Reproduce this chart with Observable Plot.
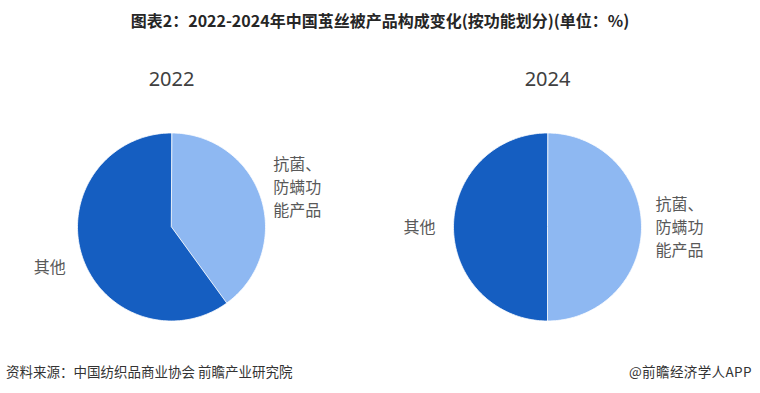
<!DOCTYPE html>
<html><head><meta charset="utf-8">
<script src="https://cdn.jsdelivr.net/npm/d3@7"></script>
<script src="https://cdn.jsdelivr.net/npm/@observablehq/plot@0.6"></script>
<style>
html,body{margin:0;padding:0;background:#fff;}
#wrap{width:760px;height:393px;position:relative;font-family:"Noto Sans CJK SC","Noto Sans",sans-serif;}
#title{height:40px;line-height:40px;text-align:center;font-size:16px;font-weight:bold;color:#262626;}
#foot{position:absolute;left:0;top:361px;width:760px;height:22px;font-size:13.5px;color:#333;}
#foot .l{position:absolute;left:6px;top:0;}
#foot .r{position:absolute;right:8px;top:0;letter-spacing:0.4px;}
svg{display:block;}
</style></head>
<body><div id="wrap">
<div id="title">图表2：2022-2024年中国茧丝被产品构成变化(按功能划分)(单位：%)</div>
<div id="chart"></div>
<div id="foot"><span class="l">资料来源：中国纺织品商业协会 前瞻产业研究院</span><span class="r">@前瞻经济学人APP</span></div>
</div>
<script>
const years = ["2022", "2024"];
const categories = ["抗菌、\n防螨功\n能产品", "其他"];
const share2022 = [40, 60];
const share2024 = [50, 50];
const sliceColors = ["#8eb8f2", "#155ec1"];

// layout
const W = 760, H = 315;
const centersX = [171, 547];
const centerY = 186.5;
const R = 94;
const labelR = 130;

const series = [share2022, share2024];
const pie = d3.pie().sort(null);
const slicePts = [];
const labels = [];
const yearLabels = [];
series.forEach((vals, i) => {
  const cx = centersX[i];
  const arcs = pie(vals);
  arcs.forEach((a, j) => {
    const key = years[i] + "-" + j;
    slicePts.push({key, x: cx, y: centerY, color: sliceColors[j]});
    const steps = Math.max(2, Math.ceil((a.endAngle - a.startAngle) / (Math.PI / 180)));
    for (let k = 0; k <= steps; k++) {
      const t = a.startAngle + (a.endAngle - a.startAngle) * k / steps;
      slicePts.push({key, x: cx + R * Math.sin(t), y: centerY - R * Math.cos(t), color: sliceColors[j]});
    }
    const m = (a.startAngle + a.endAngle) / 2;
    labels.push({x: cx + labelR * Math.sin(m) + 2, y: centerY - labelR * Math.cos(m) - 1.5, text: categories[j]});
  });
  yearLabels.push({x: cx, y: centerY - R - 53, text: years[i]});
});

const chart = Plot.plot({
  width: W, height: H,
  margin: 0,
  x: {domain: [0, W], range: [0, W], axis: null},
  y: {domain: [0, H], range: [0, H], axis: null},
  color: {type: "identity"},
  marks: [
    Plot.line(slicePts, {x: "x", y: "y", z: "key", fill: "color", stroke: "#ffffff", strokeWidth: 0.8, curve: "linear-closed"}),
    Plot.text(labels, {x: "x", y: "y", text: "text", fontSize: 16, lineHeight: 1.45, fill: "#595959", fontFamily: "Noto Sans CJK SC"}),
    Plot.text(yearLabels, {x: "x", y: "y", text: "text", fontSize: 20, fill: "#404040", fontFamily: "Noto Sans"})
  ]
});
document.getElementById("chart").appendChild(chart);
</script>
</body></html>
